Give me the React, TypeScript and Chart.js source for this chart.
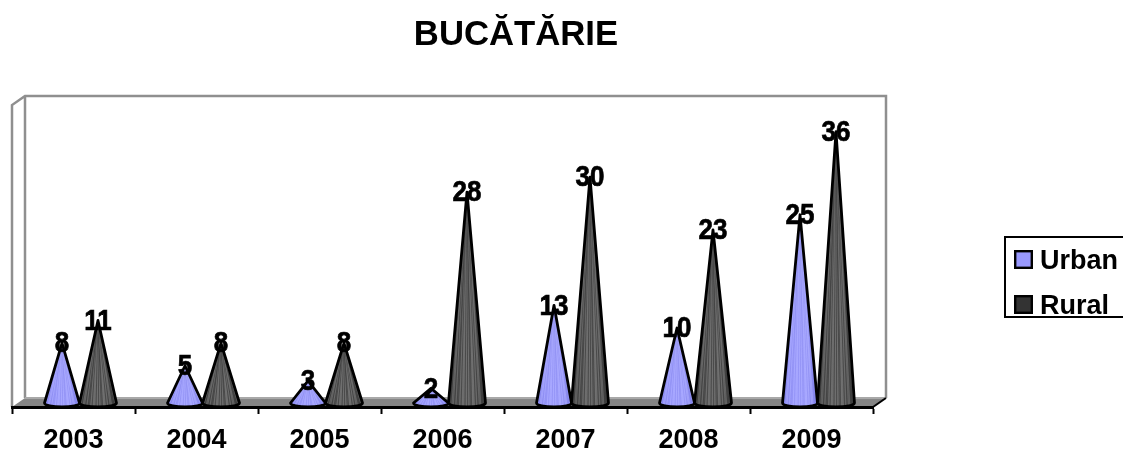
import React, { useEffect, useRef } from "react";
import { Chart, registerables } from "chart.js";

Chart.register(...registerables);

const years = ["2003", "2004", "2005", "2006", "2007", "2008", "2009"];
const urbanValues = [8, 5, 3, 2, 13, 10, 25];
const ruralValues = [11, 8, 8, 28, 30, 23, 36];
const seriesNames = ["Urban", "Rural"];
const seriesColors = ["#9999FF", "#333333"];
const FONT = "'Liberation Sans', Arial, sans-serif";

const DEPTH_X = 13;
const DEPTH_Y = 9;
const CONE_DX = 6.5;
const CONE_DY = 3;

function swatch(color: string) {
  const c = document.createElement("canvas");
  c.width = 19;
  c.height = 23;
  const x = c.getContext("2d")!;
  x.fillStyle = color;
  x.fillRect(1, 1, 17, 17);
  x.strokeStyle = "#000";
  x.lineWidth = 2.4;
  x.strokeRect(1.2, 1.2, 16.6, 16.6);
  return c;
}

const walls = {
  id: "walls",
  beforeDraw(chart: any) {
    const { ctx, chartArea: a } = chart;
    ctx.save();
    ctx.fillStyle = "#fff";
    ctx.fillRect(0, 0, chart.width, chart.height);
    // floor
    ctx.fillStyle = "#858585";
    ctx.beginPath();
    ctx.moveTo(a.left, a.bottom);
    ctx.lineTo(a.left + DEPTH_X, a.bottom - DEPTH_Y);
    ctx.lineTo(a.right + DEPTH_X, a.bottom - DEPTH_Y);
    ctx.lineTo(a.right, a.bottom);
    ctx.closePath();
    ctx.fill();
    // walls
    ctx.strokeStyle = "#8f8f8f";
    ctx.lineWidth = 2.5;
    ctx.beginPath();
    ctx.moveTo(a.left, a.bottom);
    ctx.lineTo(a.left, a.top);
    ctx.lineTo(a.left + DEPTH_X, a.top - DEPTH_Y);
    ctx.lineTo(a.right + DEPTH_X, a.top - DEPTH_Y);
    ctx.lineTo(a.right + DEPTH_X, a.bottom - DEPTH_Y);
    ctx.moveTo(a.left + DEPTH_X, a.top - DEPTH_Y);
    ctx.lineTo(a.left + DEPTH_X, a.bottom - DEPTH_Y);
    ctx.stroke();
    // back edge of the floor
    ctx.strokeStyle = "#a8a8a8";
    ctx.lineWidth = 2;
    ctx.beginPath();
    ctx.moveTo(a.left + DEPTH_X, a.bottom - DEPTH_Y);
    ctx.lineTo(a.right + DEPTH_X, a.bottom - DEPTH_Y);
    ctx.stroke();
    // right floor edge
    ctx.strokeStyle = "#000";
    ctx.lineWidth = 2;
    ctx.beginPath();
    ctx.moveTo(a.right, a.bottom);
    ctx.lineTo(a.right + DEPTH_X, a.bottom - DEPTH_Y);
    ctx.stroke();
    ctx.restore();
  },
};

const stripePattern = [1, 0, 1, 1, 0, 1, 0, 0, 1, 0, 1, 1, 0, 1, 0, 1, 0, 0, 1, 1, 0, 1, 0, 1, 1, 0, 0, 1];

function drawCone(ctx: any, x: number, tipY: number, baseY: number, half: number, dsIndex: number) {
  const ry = 4;
  const path = () => {
    ctx.beginPath();
    ctx.moveTo(x, tipY);
    ctx.lineTo(x + half, baseY);
    ctx.ellipse(x, baseY, half, ry, 0, 0, Math.PI);
    ctx.closePath();
  };
  ctx.save();
  path();
  ctx.save();
  ctx.clip();
  const g = ctx.createLinearGradient(x - half, 0, x + half, 0);
  if (dsIndex === 0) {
    g.addColorStop(0, "#8585ee");
    g.addColorStop(0.3, "#a0a0ff");
    g.addColorStop(0.7, "#a4a4ff");
    g.addColorStop(1, "#8080e8");
  } else {
    g.addColorStop(0, "#444444");
    g.addColorStop(0.35, "#666666");
    g.addColorStop(0.65, "#6a6a6a");
    g.addColorStop(1, "#404040");
  }
  ctx.fillStyle = g;
  ctx.fillRect(x - half - 2, tipY - 2, half * 2 + 4, baseY - tipY + 10);
  ctx.lineWidth = 1;
  stripePattern.forEach((on, i) => {
    const px = x - half + ((i + 0.5) / stripePattern.length) * half * 2;
    ctx.strokeStyle = on
      ? dsIndex === 0 ? "rgba(175,175,255,0.5)" : "rgba(125,125,125,0.4)"
      : dsIndex === 0 ? "rgba(125,125,230,0.3)" : "rgba(45,45,45,0.5)";
    ctx.beginPath();
    ctx.moveTo(x, tipY);
    ctx.lineTo(px, baseY + ry);
    ctx.stroke();
  });
  ctx.restore();
  path();
  ctx.strokeStyle = "#000";
  ctx.lineWidth = 2.8;
  ctx.lineJoin = "round";
  ctx.stroke();
  ctx.restore();
}

const cones = {
  id: "cones",
  afterDatasetsDraw(chart: any) {
    const { ctx } = chart;
    const y0 = chart.scales.y.getPixelForValue(0);
    years.forEach((_, i) => {
      chart.data.datasets.forEach((_d: any, ds: number) => {
        const bar = chart.getDatasetMeta(ds).data[i];
        drawCone(ctx, bar.x + CONE_DX, bar.y - CONE_DY - 0.5, y0 - CONE_DY - 1, bar.width / 2 - 0.5 + ds, ds);
      });
    });
    ctx.font = `bold 26px ${FONT}`;
    ctx.textAlign = "center";
    ctx.textBaseline = "middle";
    ctx.fillStyle = "#000";
    ctx.strokeStyle = "#000";
    ctx.lineWidth = 0.6;
    years.forEach((_, i) => {
      chart.data.datasets.forEach((d: any, ds: number) => {
        const bar = chart.getDatasetMeta(ds).data[i];
        ctx.save();
        ctx.translate(bar.x + CONE_DX, bar.y - CONE_DY + 0.5);
        ctx.scale(1, 1.14);
        ctx.fillText(String(d.data[i]), 0, 0);
        ctx.strokeText(String(d.data[i]), 0, 0);
        ctx.restore();
      });
    });
  },
};

const placement = {
  id: "placement",
  afterLayout(chart: any) {
    const t = chart.titleBlock;
    t.left = 0;
    t.right = 1032;
    t.width = 1032;
    const l = chart.legend;
    l.left = 1002.5;
    l.right = 1130;
    l.width = 127.5;
    l.top = 230;
    l.bottom = 440;
    l.height = 210;
  },
  afterDraw(chart: any) {
    const { ctx } = chart;
    ctx.save();
    ctx.strokeStyle = "#000";
    ctx.lineWidth = 2;
    ctx.strokeRect(1005, 237, 130, 80);
    ctx.restore();
  },
};

export default function App() {
  const ref = useRef<HTMLCanvasElement>(null);
  useEffect(() => {
    const swatches = seriesColors.map(swatch);
    const chart = new Chart(ref.current!, {
      type: "bar",
      data: {
        labels: years,
        datasets: [
          { label: seriesNames[0], data: urbanValues, backgroundColor: "transparent", borderWidth: 0 },
          { label: seriesNames[1], data: ruralValues, backgroundColor: "transparent", borderWidth: 0 },
        ],
      },
      options: {
        responsive: false,
        animation: false,
        layout: { padding: { left: 12, right: 250, top: 0, bottom: 0 } },
        scales: {
          x: {
            offset: true,
            afterFit: (s: any) => { s.height = 46; },
            border: { display: true, color: "#000", width: 3 },
            grid: { display: true, drawOnChartArea: false, offset: true, color: "#000", tickColor: "#000", tickLength: 7, tickWidth: 2 },
            ticks: { color: "#000", padding: 10, maxRotation: 0, font: { family: FONT, size: 27, weight: "bold" } },
          },
          y: { display: false, min: 0, max: 40 },
        } as any,
        datasets: { bar: { categoryPercentage: 0.585, barPercentage: 1 } } as any,
        plugins: {
          title: {
            display: true,
            text: "BUCĂTĂRIE",
            color: "#000",
            font: { family: FONT, size: 34.7, weight: "bold", lineHeight: 1.2 },
            padding: { top: 14.5, bottom: 48.9 },
          },
          legend: {
            display: true,
            position: "chartArea",
            align: "start",
            labels: {
              color: "#000",
              usePointStyle: true,
              pointStyleWidth: 6,
              boxHeight: 19,
              padding: 18,
              font: { family: FONT, size: 27, weight: "bold" },
              generateLabels: () =>
                seriesNames.map((n, i) => ({ text: n, pointStyle: swatches[i], datasetIndex: i, fontColor: "#000", lineWidth: 0 })),
            },
          },
          tooltip: { enabled: false },
        },
      } as any,
      plugins: [walls, placement, cones],
    });
    return () => chart.destroy();
  }, []);
  return (
    <div style={{ position: "fixed", left: 0, top: 0, width: 1123, height: 453, background: "#fff", overflow: "hidden" }}>
      <canvas ref={ref} width={1123} height={453} style={{ display: "block" }} />
    </div>
  );
}
